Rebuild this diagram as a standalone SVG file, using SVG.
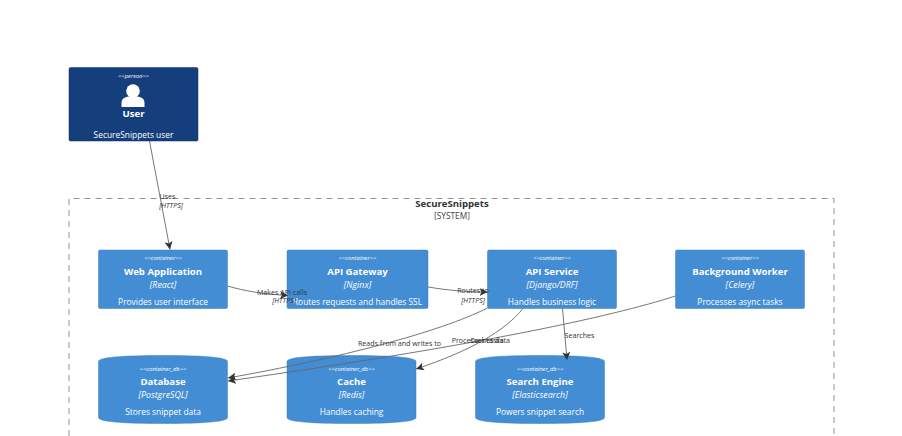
<svg xmlns="http://www.w3.org/2000/svg" width="902" height="436" viewBox="0 0 902 436">
<defs>
<marker id="arrow" markerWidth="9" markerHeight="8" refX="8" refY="4" orient="auto" markerUnits="userSpaceOnUse"><path d="M0,0 L8,4 L0,8 L2,4 Z" fill="#333"/></marker>
<path id="cyl" d="M0,6 C0,2 22,0 64.5,0 C107,0 129,2 129,6 L129,62 C129,66 107,68 64.5,68 C22,68 0,66 0,62 Z"/>
</defs>
<style>
text{font-family:"Open Sans","Noto Sans",sans-serif;text-anchor:middle}
.box{fill:#438dd5;stroke:#3c7fc0;stroke-width:.5}
.person{fill:#153f7c;stroke:#0f2f60;stroke-width:.5}
.st{font-size:5.8px;font-style:italic;fill:#fff}
.name{font-size:9.6px;font-weight:700;fill:#fff}
.tech{font-size:8.8px;font-style:italic;fill:#fff}
.desc{font-size:8.4px;fill:#fff}
.lab{font-size:7.1px;fill:#333}
.labi{font-size:7.1px;font-style:italic;fill:#333}
.c{fill:none;stroke:#666;stroke-width:.9;marker-end:url(#arrow)}
</style>
<rect width="902" height="436" fill="#fff"/>
<g id="boundary">
<path d="M69,436 L69,198.500 L834,198.500 L834,436" fill="none" stroke="#777" stroke-width=".8" stroke-dasharray="6 5"/>
<text x="452" y="207" font-size="9.600" font-weight="700" fill="#333">SecureSnippets</text>
<text x="452" y="219" font-size="8.300" fill="#444">[SYSTEM]</text>
</g>
<g id="user">
<rect class="person" x="69" y="67.500" width="129" height="73.500" rx="1.500"/>
<text class="st" x="133.500" y="78">&lt;&lt;person&gt;&gt;</text>
<circle cx="133" cy="91" r="6.800" fill="#fff"/>
<path d="M121.500,107 L121.500,103 C121.500,98 126,96 133,96 C140,96 144.500,98 144.500,103 L144.500,107 Z" fill="#fff"/>
<text class="name" x="133.500" y="117">User</text>
<text class="desc" x="133.500" y="138">SecureSnippets user</text>
</g>
<g id="web">
<rect class="box" x="98.500" y="250" width="129" height="58.500" rx="1.500"/>
<text class="st" x="163" y="260">&lt;&lt;container&gt;&gt;</text>
<text class="name" x="163" y="275">Web Application</text>
<text class="tech" x="163" y="288">[React]</text>
<text class="desc" x="163" y="305">Provides user interface</text>
</g>
<g id="gateway">
<rect class="box" x="287" y="250" width="141" height="58.500" rx="1.500"/>
<text class="st" x="357.500" y="260">&lt;&lt;container&gt;&gt;</text>
<text class="name" x="357.500" y="275">API Gateway</text>
<text class="tech" x="357.500" y="288">[Nginx]</text>
<text class="desc" x="357.500" y="305">Routes requests and handles SSL</text>
</g>
<g id="api">
<rect class="box" x="487.500" y="250" width="129" height="58.500" rx="1.500"/>
<text class="st" x="552" y="260">&lt;&lt;container&gt;&gt;</text>
<text class="name" x="552" y="275">API Service</text>
<text class="tech" x="552" y="288">[Django/DRF]</text>
<text class="desc" x="552" y="305">Handles business logic</text>
</g>
<g id="worker">
<rect class="box" x="675.500" y="250" width="129" height="58.500" rx="1.500"/>
<text class="st" x="740" y="260">&lt;&lt;container&gt;&gt;</text>
<text class="name" x="740" y="275">Background Worker</text>
<text class="tech" x="740" y="288">[Celery]</text>
<text class="desc" x="740" y="305">Processes async tasks</text>
</g>
<g id="database">
<use href="#cyl" class="box" x="98.500" y="355.500"/>
<text class="st" x="163" y="370.500">&lt;&lt;container_db&gt;&gt;</text>
<text class="name" x="163" y="385">Database</text>
<text class="tech" x="163" y="398">[PostgreSQL]</text>
<text class="desc" x="163" y="415">Stores snippet data</text>
</g>
<g id="cache">
<use href="#cyl" class="box" x="287" y="355.500"/>
<text class="st" x="351.500" y="370.500">&lt;&lt;container_db&gt;&gt;</text>
<text class="name" x="351.500" y="385">Cache</text>
<text class="tech" x="351.500" y="398">[Redis]</text>
<text class="desc" x="351.500" y="415">Handles caching</text>
</g>
<g id="search">
<use href="#cyl" class="box" x="475.500" y="355.500"/>
<text class="st" x="540" y="370.500">&lt;&lt;container_db&gt;&gt;</text>
<text class="name" x="540" y="385">Search Engine</text>
<text class="tech" x="540" y="398">[Elasticsearch]</text>
<text class="desc" x="540" y="415">Powers snippet search</text>
</g>
<g id="connectors">
<path class="c" d="M149.500,141 L170,249.500"/>
<path class="c" d="M227.500,286 C245,291 262,294 288,295.500"/>
<path class="c" d="M428,287 C446,290 465,292 487.500,292"/>
<path class="c" d="M487.500,308 C440,332 340,358 228,378"/>
<path class="c" d="M523,308.500 C505,331 470,351 416,369"/>
<path class="c" d="M562.500,308.500 L567,360"/>
<path class="c" d="M675.500,296 C610,317 480,345 228,381"/>
<text class="lab" x="167.500" y="199">Uses</text>
<text class="labi" x="171" y="207.500">[HTTPS]</text>
<text class="lab" x="282" y="295">Makes API calls</text>
<text class="labi" x="284" y="303">[HTTPS]</text>
<text class="lab" x="473" y="293">Routes to</text>
<text class="labi" x="473" y="303">[HTTPS]</text>
<text class="lab" x="399.500" y="346">Reads from and writes to</text>
<text class="lab" x="477.500" y="343">Processes tasks</text>
<text class="lab" x="490" y="343">Caches data</text>
<text class="lab" x="579.500" y="338">Searches</text>
</g>
</svg>
